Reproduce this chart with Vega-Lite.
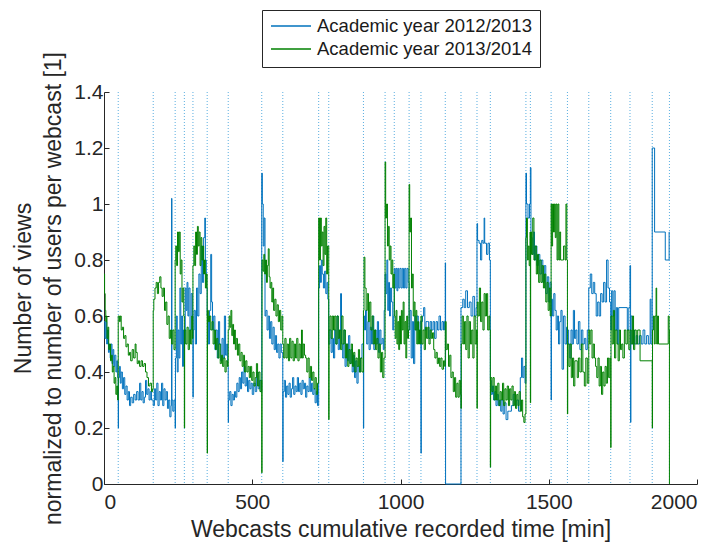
{
"$schema":"https://vega.github.io/schema/vega-lite/v6.json",
"width":593,"height":392,"autosize":"none",
"padding":{"left":104,"top":92,"right":24,"bottom":64},
"background":"white",
"config":{
 "view":{"stroke":null},
 "font":"Liberation Sans",
 "axis":{"grid":false,"domainColor":"#262626","tickColor":"#262626","labelColor":"#262626","titleColor":"#262626","labelFont":"Liberation Sans","titleFont":"Liberation Sans","labelFontSize":21,"titleFontSize":23,"titleFontWeight":"normal","tickSize":-5,"domainWidth":1},
 "legend":{"orient":"none","legendX":158,"legendY":-82,"strokeColor":"#262626","fillColor":"white","padding":8,"symbolType":"stroke","symbolSize":1600,"symbolStrokeWidth":1.5,"labelFontSize":18.5,"labelFont":"Liberation Sans","labelColor":"#1a1a1a","labelOffset":5,"labelLimit":0,"clipHeight":16,"rowPadding":4,"title":null}
},
"layer":[
 {"data":{"values":[{"x":48},{"x":166},{"x":240},{"x":271},{"x":300},{"x":348},{"x":419},{"x":532},{"x":603},{"x":724},{"x":758},{"x":875},{"x":948},{"x":979},{"x":1029},{"x":1069},{"x":1151},{"x":1204},{"x":1258},{"x":1303},{"x":1423},{"x":1438},{"x":1508},{"x":1563},{"x":1635},{"x":1709},{"x":1774},{"x":1849},{"x":1907}]},
  "mark":{"type":"rule","color":"#5aaee0","strokeDash":[1,2],"strokeWidth":1},
  "encoding":{"x":{"field":"x","type":"quantitative","scale":{"domain":[0,2000],"nice":false,"zero":false}}}},
 {"data":{"values":[
{"x":0,"y":0.58},{"x":3,"y":0.52},{"x":6,"y":0.58},{"x":9,"y":0.5},{"x":12,"y":0.55},{"x":15,"y":0.47},{"x":18,"y":0.5},{"x":21,"y":0.45},{"x":24,"y":0.5},{"x":27,"y":0.43},{"x":30,"y":0.48},{"x":33,"y":0.42},{"x":36,"y":0.46},{"x":40,"y":0.4},{"x":43,"y":0.44},{"x":46,"y":0.38},
{"x":48,"y":0.2},{"x":49,"y":0.38},{"x":52,"y":0.42},{"x":55,"y":0.36},{"x":58,"y":0.4},{"x":62,"y":0.34},{"x":66,"y":0.38},{"x":70,"y":0.32},{"x":74,"y":0.35},{"x":78,"y":0.3},{"x":82,"y":0.33},{"x":86,"y":0.28},{"x":90,"y":0.31},{"x":95,"y":0.29},{"x":100,"y":0.32},{"x":105,"y":0.3},{"x":110,"y":0.33},{"x":115,"y":0.3},{"x":120,"y":0.36},{"x":124,"y":0.3},{"x":128,"y":0.33},{"x":132,"y":0.29},{"x":136,"y":0.31},{"x":140,"y":0.37},{"x":144,"y":0.32},{"x":148,"y":0.34},{"x":152,"y":0.3},{"x":156,"y":0.33},{"x":160,"y":0.3},
{"x":166,"y":0.28},{"x":170,"y":0.34},{"x":174,"y":0.3},{"x":178,"y":0.36},{"x":182,"y":0.28},{"x":186,"y":0.33},{"x":190,"y":0.3},{"x":194,"y":0.36},{"x":198,"y":0.28},{"x":202,"y":0.34},{"x":206,"y":0.3},{"x":210,"y":0.33},{"x":214,"y":0.27},{"x":218,"y":0.3},{"x":222,"y":0.24},{"x":226,"y":0.28},{"x":228,"y":1.02},{"x":229,"y":0.3},{"x":232,"y":0.26},{"x":236,"y":0.3},
{"x":240,"y":0.2},{"x":241,"y":0.45},{"x":244,"y":0.6},{"x":247,"y":0.4},{"x":250,"y":0.55},{"x":253,"y":0.45},{"x":256,"y":0.7},{"x":259,"y":0.5},{"x":262,"y":0.6},{"x":265,"y":0.42},{"x":268,"y":0.55},
{"x":271,"y":0.5},{"x":274,"y":0.7},{"x":277,"y":0.62},{"x":280,"y":0.72},{"x":283,"y":0.6},{"x":286,"y":0.7},{"x":290,"y":0.55},{"x":294,"y":0.68},{"x":298,"y":0.6},
{"x":300,"y":0.31},{"x":301,"y":0.55},{"x":304,"y":0.62},{"x":308,"y":0.5},{"x":312,"y":0.7},{"x":316,"y":0.6},{"x":320,"y":0.75},{"x":324,"y":0.68},{"x":328,"y":0.85},{"x":332,"y":0.72},{"x":336,"y":0.88},{"x":340,"y":0.95},{"x":342,"y":0.8},{"x":345,"y":0.7},
{"x":348,"y":0.6},{"x":352,"y":0.5},{"x":356,"y":0.62},{"x":360,"y":0.82},{"x":363,"y":0.65},{"x":366,"y":0.55},{"x":370,"y":0.6},{"x":374,"y":0.48},{"x":378,"y":0.55},{"x":382,"y":0.45},{"x":386,"y":0.58},{"x":390,"y":0.5},{"x":394,"y":0.44},{"x":398,"y":0.52},{"x":402,"y":0.45},{"x":406,"y":0.6},{"x":410,"y":0.46},{"x":414,"y":0.5},{"x":417,"y":0.42},
{"x":419,"y":0.22},{"x":420,"y":0.3},{"x":424,"y":0.33},{"x":428,"y":0.28},{"x":432,"y":0.32},{"x":436,"y":0.3},{"x":440,"y":0.33},{"x":444,"y":0.31},{"x":448,"y":0.36},{"x":452,"y":0.33},{"x":456,"y":0.38},{"x":460,"y":0.34},{"x":464,"y":0.4},{"x":468,"y":0.36},{"x":472,"y":0.42},{"x":476,"y":0.35},{"x":480,"y":0.38},{"x":484,"y":0.33},{"x":488,"y":0.37},{"x":492,"y":0.34},{"x":496,"y":0.36},{"x":500,"y":0.32},{"x":505,"y":0.36},{"x":510,"y":0.33},{"x":515,"y":0.4},{"x":520,"y":0.34},{"x":525,"y":0.37},{"x":530,"y":0.33},
{"x":532,"y":1.11},{"x":534,"y":1.0},{"x":537,"y":0.85},{"x":540,"y":0.95},{"x":543,"y":0.6},{"x":546,"y":0.62},{"x":550,"y":0.55},{"x":554,"y":0.6},{"x":558,"y":0.52},{"x":562,"y":0.58},{"x":566,"y":0.5},{"x":570,"y":0.56},{"x":574,"y":0.48},{"x":578,"y":0.53},{"x":582,"y":0.47},{"x":586,"y":0.5},{"x":590,"y":0.45},{"x":594,"y":0.5},{"x":598,"y":0.47},
{"x":603,"y":0.08},{"x":604,"y":0.33},{"x":608,"y":0.37},{"x":612,"y":0.31},{"x":616,"y":0.35},{"x":620,"y":0.32},{"x":624,"y":0.36},{"x":628,"y":0.31},{"x":632,"y":0.34},{"x":636,"y":0.38},{"x":640,"y":0.32},{"x":644,"y":0.35},{"x":648,"y":0.33},{"x":652,"y":0.38},{"x":656,"y":0.33},{"x":660,"y":0.36},{"x":664,"y":0.32},{"x":668,"y":0.37},{"x":672,"y":0.34},{"x":676,"y":0.36},{"x":680,"y":0.31},{"x":684,"y":0.35},{"x":688,"y":0.33},{"x":692,"y":0.38},{"x":696,"y":0.33},{"x":700,"y":0.36},{"x":704,"y":0.32},{"x":708,"y":0.34},{"x":712,"y":0.29},{"x":716,"y":0.33},{"x":720,"y":0.28},
{"x":724,"y":0.7},{"x":727,"y":0.78},{"x":730,"y":0.72},{"x":733,"y":0.8},{"x":736,"y":0.75},{"x":740,"y":0.7},{"x":744,"y":0.76},{"x":748,"y":0.68},{"x":752,"y":0.72},{"x":755,"y":0.66},
{"x":758,"y":0.5},{"x":762,"y":0.55},{"x":766,"y":0.47},{"x":770,"y":0.52},{"x":774,"y":0.45},{"x":778,"y":0.55},{"x":782,"y":0.5},{"x":786,"y":0.6},{"x":790,"y":0.48},{"x":794,"y":0.55},{"x":798,"y":0.68},{"x":801,"y":0.5},{"x":805,"y":0.45},{"x":809,"y":0.55},{"x":813,"y":0.42},{"x":817,"y":0.5},{"x":821,"y":0.44},{"x":825,"y":0.53},{"x":829,"y":0.43},{"x":833,"y":0.48},{"x":837,"y":0.4},{"x":841,"y":0.46},{"x":845,"y":0.38},{"x":849,"y":0.44},{"x":853,"y":0.36},{"x":857,"y":0.42},{"x":861,"y":0.4},{"x":865,"y":0.45},{"x":870,"y":0.5},
{"x":875,"y":0.2},{"x":876,"y":0.6},{"x":879,"y":0.55},{"x":882,"y":0.62},{"x":886,"y":0.5},{"x":890,"y":0.58},{"x":894,"y":0.48},{"x":898,"y":0.56},{"x":902,"y":0.5},{"x":906,"y":0.6},{"x":910,"y":0.48},{"x":914,"y":0.55},{"x":918,"y":0.5},{"x":922,"y":0.58},{"x":926,"y":0.47},{"x":930,"y":0.55},{"x":934,"y":0.5},{"x":938,"y":0.52},{"x":942,"y":0.48},{"x":945,"y":0.62},
{"x":948,"y":0.75},{"x":951,"y":0.68},{"x":954,"y":0.8},{"x":957,"y":0.62},{"x":960,"y":0.72},{"x":963,"y":0.6},{"x":966,"y":0.7},{"x":970,"y":0.65},{"x":974,"y":0.55},{"x":977,"y":0.6},
{"x":979,"y":0.77},{"x":982,"y":0.7},{"x":985,"y":0.77},{"x":988,"y":0.69},{"x":991,"y":0.77},{"x":994,"y":0.7},{"x":998,"y":0.77},{"x":1002,"y":0.7},{"x":1006,"y":0.77},{"x":1010,"y":0.7},{"x":1014,"y":0.77},{"x":1018,"y":0.7},{"x":1022,"y":0.77},{"x":1026,"y":0.72},
{"x":1029,"y":0.55},{"x":1032,"y":0.62},{"x":1036,"y":0.45},{"x":1040,"y":0.58},{"x":1044,"y":0.43},{"x":1048,"y":0.6},{"x":1052,"y":0.55},{"x":1056,"y":0.6},{"x":1060,"y":0.55},{"x":1064,"y":0.52},{"x":1066,"y":0.58},
{"x":1069,"y":0.11},{"x":1070,"y":0.58},{"x":1074,"y":0.6},{"x":1078,"y":0.63},{"x":1082,"y":0.55},{"x":1086,"y":0.58},{"x":1090,"y":0.58},{"x":1095,"y":0.52},{"x":1100,"y":0.58},{"x":1105,"y":0.55},{"x":1110,"y":0.58},{"x":1115,"y":0.52},{"x":1120,"y":0.58},{"x":1125,"y":0.55},{"x":1130,"y":0.6},{"x":1135,"y":0.55},{"x":1140,"y":0.58},{"x":1145,"y":0.55},{"x":1148,"y":0.58},
{"x":1151,"y":0.79},{"x":1152,"y":0},
{"x":1204,"y":0.63},{"x":1210,"y":0.66},{"x":1215,"y":0.63},{"x":1220,"y":0.69},{"x":1226,"y":0.63},{"x":1232,"y":0.65},{"x":1238,"y":0.6},{"x":1244,"y":0.67},{"x":1250,"y":0.6},{"x":1255,"y":0.63},
{"x":1258,"y":0.93},{"x":1260,"y":0.87},{"x":1265,"y":0.86},{"x":1270,"y":0.8},{"x":1274,"y":0.87},{"x":1278,"y":0.86},{"x":1282,"y":0.95},{"x":1284,"y":0.86},{"x":1290,"y":0.82},{"x":1295,"y":0.86},{"x":1300,"y":0.8},
{"x":1303,"y":0.37},{"x":1306,"y":0.32},{"x":1310,"y":0.35},{"x":1314,"y":0.3},{"x":1318,"y":0.33},{"x":1322,"y":0.28},{"x":1326,"y":0.32},{"x":1330,"y":0.28},{"x":1334,"y":0.3},{"x":1338,"y":0.26},{"x":1342,"y":0.3},{"x":1346,"y":0.25},{"x":1350,"y":0.29},{"x":1356,"y":0.23},{"x":1362,"y":0.26},{"x":1368,"y":0.26},{"x":1374,"y":0.28},{"x":1380,"y":0.32},{"x":1386,"y":0.28},{"x":1392,"y":0.3},{"x":1398,"y":0.26},{"x":1404,"y":0.38},{"x":1408,"y":0.45},{"x":1412,"y":0.38},{"x":1416,"y":0.42},{"x":1420,"y":0.36},
{"x":1423,"y":1.11},{"x":1425,"y":1.0},{"x":1430,"y":0.95},{"x":1435,"y":1.0},{"x":1438,"y":1.13},{"x":1440,"y":0.88},{"x":1444,"y":0.82},{"x":1448,"y":0.9},{"x":1452,"y":0.8},{"x":1456,"y":0.85},{"x":1460,"y":0.78},{"x":1465,"y":0.82},{"x":1470,"y":0.75},{"x":1475,"y":0.8},{"x":1480,"y":0.72},{"x":1485,"y":0.78},{"x":1490,"y":0.68},{"x":1495,"y":0.74},{"x":1500,"y":0.65},{"x":1504,"y":0.72},
{"x":1508,"y":0.3},{"x":1509,"y":0.66},{"x":1513,"y":0.6},{"x":1517,"y":0.68},{"x":1521,"y":0.62},{"x":1525,"y":0.55},{"x":1529,"y":0.6},{"x":1533,"y":0.5},{"x":1537,"y":0.58},{"x":1541,"y":0.62},{"x":1545,"y":0.41},{"x":1550,"y":0.6},{"x":1555,"y":0.5},{"x":1560,"y":0.56},
{"x":1563,"y":0.55},{"x":1567,"y":0.5},{"x":1571,"y":0.45},{"x":1575,"y":0.55},{"x":1579,"y":0.5},{"x":1583,"y":0.62},{"x":1587,"y":0.52},{"x":1591,"y":0.55},{"x":1595,"y":0.5},{"x":1600,"y":0.58},{"x":1605,"y":0.48},{"x":1610,"y":0.55},{"x":1615,"y":0.5},{"x":1620,"y":0.52},{"x":1625,"y":0.48},{"x":1630,"y":0.55},
{"x":1635,"y":0.7},{"x":1640,"y":0.75},{"x":1645,"y":0.68},{"x":1650,"y":0.72},{"x":1655,"y":0.68},{"x":1660,"y":0.6},{"x":1665,"y":0.65},{"x":1670,"y":0.6},{"x":1675,"y":0.68},{"x":1680,"y":0.65},{"x":1685,"y":0.72},{"x":1690,"y":0.65},{"x":1695,"y":0.8},{"x":1700,"y":0.7},{"x":1705,"y":0.65},
{"x":1709,"y":0.55},{"x":1712,"y":0.69},{"x":1716,"y":0.6},{"x":1720,"y":0.69},{"x":1724,"y":0.55},{"x":1728,"y":0.63},{"x":1732,"y":0.5},{"x":1736,"y":0.63},{"x":1765,"y":0.55},{"x":1770,"y":0.63},
{"x":1774,"y":0.78},{"x":1776,"y":0.22},{"x":1777,"y":0.6},{"x":1781,"y":0.5},{"x":1785,"y":0.55},{"x":1789,"y":0.5},{"x":1795,"y":0.53},{"x":1800,"y":0.5},{"x":1806,"y":0.53},{"x":1812,"y":0.5},{"x":1818,"y":0.55},{"x":1824,"y":0.5},{"x":1830,"y":0.53},{"x":1836,"y":0.5},{"x":1842,"y":0.66},{"x":1845,"y":0.5},
{"x":1849,"y":1.2},{"x":1857,"y":0.9},{"x":1893,"y":0.8},{"x":1906,"y":0.9},{"x":1907,"y":0.9}
 ]},
  "mark":{"type":"line","interpolate":"step-after","strokeWidth":1},
  "encoding":{
   "x":{"field":"x","type":"quantitative","scale":{"domain":[0,2000],"nice":false,"zero":false},"axis":{"values":[0,500,1000,1500,2000],"format":"d","labelPadding":12,"titlePadding":6},"title":"Webcasts cumulative recorded time [min]"},
   "y":{"field":"y","type":"quantitative","scale":{"domain":[0,1.4],"nice":false},"axis":{"values":[0,0.2,0.4,0.6,0.8,1,1.2,1.4],"format":"~g","labelPadding":6,"titlePadding":8,"titleLineHeight":30},"title":["Number of views","normalized to number of users per webcast [1]"]},
   "color":{"datum":"Academic year 2012/2013","type":"nominal","scale":{"domain":["Academic year 2012/2013","Academic year 2013/2014"],"range":["#0072BD","#008000"]}}
  }},
 {"data":{"values":[
{"x":0,"y":0.75},{"x":2,"y":0.68},{"x":4,"y":0.62},{"x":6,"y":0.58},{"x":8,"y":0.6},{"x":10,"y":0.52},{"x":13,"y":0.56},{"x":16,"y":0.48},{"x":19,"y":0.5},{"x":22,"y":0.44},{"x":25,"y":0.46},{"x":28,"y":0.4},{"x":31,"y":0.42},{"x":34,"y":0.36},{"x":37,"y":0.38},{"x":40,"y":0.32},{"x":43,"y":0.35},{"x":46,"y":0.3},
{"x":48,"y":0.6},{"x":52,"y":0.58},{"x":55,"y":0.6},{"x":58,"y":0.55},{"x":62,"y":0.56},{"x":66,"y":0.52},{"x":70,"y":0.53},{"x":74,"y":0.49},{"x":78,"y":0.5},{"x":82,"y":0.46},{"x":86,"y":0.47},{"x":90,"y":0.44},{"x":95,"y":0.48},{"x":100,"y":0.45},{"x":105,"y":0.5},{"x":108,"y":0.47},{"x":112,"y":0.43},{"x":116,"y":0.44},{"x":120,"y":0.42},{"x":125,"y":0.44},{"x":130,"y":0.42},{"x":135,"y":0.43},{"x":140,"y":0.4},{"x":145,"y":0.38},{"x":150,"y":0.35},{"x":155,"y":0.36},{"x":160,"y":0.33},{"x":164,"y":0.34},
{"x":166,"y":0.62},{"x":168,"y":0.66},{"x":172,"y":0.7},{"x":176,"y":0.72},{"x":180,"y":0.68},{"x":184,"y":0.72},{"x":188,"y":0.74},{"x":192,"y":0.7},{"x":196,"y":0.67},{"x":200,"y":0.7},{"x":204,"y":0.62},{"x":208,"y":0.65},{"x":212,"y":0.57},{"x":216,"y":0.6},{"x":220,"y":0.52},{"x":224,"y":0.55},{"x":228,"y":0.5},{"x":232,"y":0.55},{"x":236,"y":0.48},
{"x":240,"y":0.8},{"x":242,"y":0.85},{"x":245,"y":0.78},{"x":248,"y":0.9},{"x":251,"y":0.83},{"x":254,"y":0.9},{"x":257,"y":0.75},{"x":260,"y":0.8},{"x":263,"y":0.65},{"x":266,"y":0.7},{"x":269,"y":0.6},
{"x":271,"y":0.2},{"x":272,"y":0.55},{"x":276,"y":0.5},{"x":280,"y":0.56},{"x":284,"y":0.48},{"x":288,"y":0.55},{"x":292,"y":0.5},{"x":296,"y":0.6},{"x":298,"y":0.52},
{"x":300,"y":0.78},{"x":303,"y":0.85},{"x":306,"y":0.78},{"x":309,"y":0.9},{"x":312,"y":0.82},{"x":315,"y":0.92},{"x":318,"y":0.85},{"x":321,"y":0.9},{"x":324,"y":0.78},{"x":327,"y":0.88},{"x":330,"y":0.8},{"x":333,"y":0.85},{"x":336,"y":0.75},{"x":339,"y":0.8},{"x":342,"y":0.7},{"x":345,"y":0.75},
{"x":348,"y":0.11},{"x":349,"y":0.62},{"x":352,"y":0.58},{"x":356,"y":0.6},{"x":360,"y":0.55},{"x":364,"y":0.58},{"x":368,"y":0.5},{"x":372,"y":0.55},{"x":376,"y":0.48},{"x":380,"y":0.52},{"x":384,"y":0.45},{"x":388,"y":0.5},{"x":392,"y":0.43},{"x":396,"y":0.46},{"x":400,"y":0.42},{"x":404,"y":0.45},{"x":408,"y":0.4},{"x":412,"y":0.44},{"x":416,"y":0.42},
{"x":419,"y":0.55},{"x":422,"y":0.6},{"x":425,"y":0.56},{"x":428,"y":0.62},{"x":431,"y":0.53},{"x":434,"y":0.57},{"x":437,"y":0.5},{"x":440,"y":0.55},{"x":443,"y":0.48},{"x":446,"y":0.52},{"x":450,"y":0.46},{"x":454,"y":0.5},{"x":458,"y":0.44},{"x":462,"y":0.47},{"x":466,"y":0.42},{"x":470,"y":0.46},{"x":474,"y":0.4},{"x":478,"y":0.44},{"x":482,"y":0.4},{"x":486,"y":0.42},{"x":490,"y":0.38},{"x":494,"y":0.42},{"x":498,"y":0.37},{"x":502,"y":0.4},{"x":506,"y":0.35},{"x":510,"y":0.38},{"x":514,"y":0.43},{"x":518,"y":0.35},{"x":522,"y":0.4},{"x":526,"y":0.33},{"x":530,"y":0.37},
{"x":532,"y":0.04},{"x":533,"y":0.8},{"x":536,"y":0.76},{"x":539,"y":0.82},{"x":542,"y":0.75},{"x":545,"y":0.8},{"x":548,"y":0.72},{"x":551,"y":0.78},{"x":554,"y":0.84},{"x":557,"y":0.74},{"x":560,"y":0.7},{"x":563,"y":0.72},{"x":566,"y":0.65},{"x":569,"y":0.7},{"x":572,"y":0.62},{"x":576,"y":0.66},{"x":580,"y":0.6},{"x":584,"y":0.64},{"x":588,"y":0.58},{"x":592,"y":0.62},{"x":596,"y":0.55},{"x":600,"y":0.6},
{"x":603,"y":0.5},{"x":606,"y":0.45},{"x":610,"y":0.52},{"x":614,"y":0.45},{"x":618,"y":0.5},{"x":622,"y":0.44},{"x":626,"y":0.52},{"x":630,"y":0.45},{"x":634,"y":0.51},{"x":638,"y":0.44},{"x":642,"y":0.5},{"x":646,"y":0.45},{"x":650,"y":0.52},{"x":654,"y":0.44},{"x":658,"y":0.5},{"x":662,"y":0.45},{"x":666,"y":0.55},{"x":669,"y":0.45},{"x":672,"y":0.5},{"x":676,"y":0.46},{"x":680,"y":0.45},{"x":684,"y":0.4},{"x":688,"y":0.45},{"x":692,"y":0.38},{"x":696,"y":0.42},{"x":700,"y":0.37},{"x":704,"y":0.4},{"x":708,"y":0.34},{"x":712,"y":0.38},{"x":716,"y":0.32},{"x":720,"y":0.36},
{"x":724,"y":0.95},{"x":727,"y":0.8},{"x":730,"y":0.95},{"x":733,"y":0.85},{"x":736,"y":0.9},{"x":739,"y":0.78},{"x":742,"y":0.92},{"x":745,"y":0.82},{"x":748,"y":0.95},{"x":751,"y":0.75},{"x":754,"y":0.85},
{"x":758,"y":0.23},{"x":759,"y":0.55},{"x":762,"y":0.6},{"x":766,"y":0.52},{"x":770,"y":0.6},{"x":774,"y":0.55},{"x":778,"y":0.6},{"x":782,"y":0.5},{"x":786,"y":0.6},{"x":790,"y":0.52},{"x":794,"y":0.55},{"x":798,"y":0.48},{"x":802,"y":0.6},{"x":806,"y":0.5},{"x":810,"y":0.55},{"x":814,"y":0.45},{"x":818,"y":0.5},{"x":822,"y":0.42},{"x":826,"y":0.48},{"x":830,"y":0.43},{"x":834,"y":0.5},{"x":838,"y":0.42},{"x":842,"y":0.47},{"x":846,"y":0.4},{"x":850,"y":0.45},{"x":854,"y":0.42},{"x":858,"y":0.48},{"x":862,"y":0.4},{"x":866,"y":0.45},{"x":870,"y":0.4},
{"x":875,"y":0.62},{"x":877,"y":0.81},{"x":880,"y":0.7},{"x":884,"y":0.62},{"x":888,"y":0.68},{"x":892,"y":0.58},{"x":896,"y":0.65},{"x":900,"y":0.55},{"x":904,"y":0.6},{"x":908,"y":0.5},{"x":912,"y":0.55},{"x":916,"y":0.48},{"x":920,"y":0.52},{"x":924,"y":0.45},{"x":928,"y":0.5},{"x":932,"y":0.4},{"x":936,"y":0.47},{"x":940,"y":0.38},{"x":944,"y":0.45},
{"x":948,"y":1.15},{"x":950,"y":0.95},{"x":953,"y":1.0},{"x":956,"y":0.85},{"x":959,"y":0.92},{"x":962,"y":0.8},{"x":965,"y":0.85},{"x":968,"y":0.75},{"x":971,"y":0.8},{"x":974,"y":0.7},{"x":977,"y":0.75},
{"x":979,"y":0.6},{"x":982,"y":0.52},{"x":985,"y":0.62},{"x":988,"y":0.5},{"x":991,"y":0.58},{"x":994,"y":0.48},{"x":997,"y":0.6},{"x":1000,"y":0.5},{"x":1003,"y":0.62},{"x":1006,"y":0.55},{"x":1009,"y":0.65},{"x":1012,"y":0.5},{"x":1015,"y":0.58},{"x":1018,"y":0.45},{"x":1021,"y":0.6},{"x":1024,"y":0.52},{"x":1027,"y":0.55},
{"x":1029,"y":1.07},{"x":1031,"y":0.9},{"x":1034,"y":0.95},{"x":1037,"y":0.7},{"x":1040,"y":0.75},{"x":1043,"y":0.6},{"x":1046,"y":0.65},{"x":1049,"y":0.55},{"x":1052,"y":0.62},{"x":1055,"y":0.5},{"x":1058,"y":0.58},{"x":1061,"y":0.5},{"x":1064,"y":0.55},{"x":1067,"y":0.5},
{"x":1069,"y":0.6},{"x":1072,"y":0.5},{"x":1076,"y":0.55},{"x":1080,"y":0.48},{"x":1084,"y":0.56},{"x":1088,"y":0.52},{"x":1092,"y":0.56},{"x":1096,"y":0.5},{"x":1100,"y":0.55},{"x":1104,"y":0.52},{"x":1108,"y":0.54},{"x":1112,"y":0.48},{"x":1116,"y":0.45},{"x":1120,"y":0.47},{"x":1124,"y":0.43},{"x":1128,"y":0.45},{"x":1132,"y":0.42},{"x":1136,"y":0.45},{"x":1140,"y":0.41},{"x":1145,"y":0.44},{"x":1149,"y":0.42},
{"x":1151,"y":0.58},{"x":1154,"y":0.48},{"x":1158,"y":0.5},{"x":1162,"y":0.42},{"x":1166,"y":0.46},{"x":1170,"y":0.38},{"x":1174,"y":0.4},{"x":1178,"y":0.33},{"x":1182,"y":0.38},{"x":1186,"y":0.31},{"x":1190,"y":0.36},{"x":1194,"y":0.31},{"x":1198,"y":0.37},{"x":1202,"y":0.32},
{"x":1204,"y":0.27},{"x":1205,"y":0.5},{"x":1208,"y":0.6},{"x":1212,"y":0.5},{"x":1216,"y":0.58},{"x":1220,"y":0.48},{"x":1224,"y":0.6},{"x":1228,"y":0.45},{"x":1232,"y":0.58},{"x":1236,"y":0.5},{"x":1240,"y":0.55},{"x":1244,"y":0.45},{"x":1248,"y":0.6},{"x":1252,"y":0.5},{"x":1256,"y":0.55},
{"x":1258,"y":0.27},{"x":1259,"y":0.65},{"x":1262,"y":0.6},{"x":1266,"y":0.7},{"x":1270,"y":0.58},{"x":1274,"y":0.65},{"x":1278,"y":0.55},{"x":1282,"y":0.68},{"x":1286,"y":0.6},{"x":1290,"y":0.68},{"x":1294,"y":0.55},{"x":1298,"y":0.6},{"x":1301,"y":0.55},
{"x":1303,"y":0.06},{"x":1304,"y":0.38},{"x":1308,"y":0.33},{"x":1312,"y":0.38},{"x":1316,"y":0.3},{"x":1320,"y":0.35},{"x":1324,"y":0.3},{"x":1328,"y":0.36},{"x":1332,"y":0.28},{"x":1336,"y":0.33},{"x":1340,"y":0.3},{"x":1344,"y":0.36},{"x":1348,"y":0.28},{"x":1352,"y":0.34},{"x":1356,"y":0.3},{"x":1360,"y":0.35},{"x":1364,"y":0.28},{"x":1368,"y":0.34},{"x":1372,"y":0.3},{"x":1376,"y":0.35},{"x":1380,"y":0.28},{"x":1384,"y":0.33},{"x":1388,"y":0.27},{"x":1392,"y":0.32},{"x":1396,"y":0.28},{"x":1400,"y":0.33},{"x":1404,"y":0.26},{"x":1408,"y":0.3},{"x":1412,"y":0.24},{"x":1416,"y":0.22},{"x":1420,"y":0.25},
{"x":1423,"y":0.88},{"x":1425,"y":0.95},{"x":1428,"y":0.8},{"x":1431,"y":0.85},{"x":1434,"y":0.78},{"x":1437,"y":0.9},{"x":1438,"y":0.29},{"x":1439,"y":0.9},{"x":1442,"y":0.82},{"x":1446,"y":0.95},{"x":1450,"y":0.8},{"x":1454,"y":0.85},{"x":1458,"y":0.75},{"x":1462,"y":0.82},{"x":1466,"y":0.72},{"x":1470,"y":0.8},{"x":1474,"y":0.72},{"x":1478,"y":0.78},{"x":1482,"y":0.7},{"x":1486,"y":0.75},{"x":1490,"y":0.65},{"x":1494,"y":0.72},{"x":1498,"y":0.62},{"x":1502,"y":0.7},{"x":1505,"y":0.6},
{"x":1508,"y":1.0},{"x":1510,"y":0.85},{"x":1513,"y":1.0},{"x":1516,"y":0.9},{"x":1519,"y":1.0},{"x":1522,"y":0.88},{"x":1525,"y":1.0},{"x":1528,"y":0.8},{"x":1531,"y":1.0},{"x":1534,"y":0.8},{"x":1537,"y":0.9},{"x":1540,"y":0.8},{"x":1545,"y":0.8},{"x":1550,"y":0.85},{"x":1555,"y":0.8},{"x":1558,"y":1.0},{"x":1561,"y":0.8},
{"x":1563,"y":0.25},{"x":1564,"y":0.5},{"x":1568,"y":0.42},{"x":1572,"y":0.5},{"x":1576,"y":0.38},{"x":1580,"y":0.45},{"x":1584,"y":0.35},{"x":1588,"y":0.44},{"x":1596,"y":0.38},{"x":1600,"y":0.45},{"x":1605,"y":0.4},{"x":1610,"y":0.5},{"x":1615,"y":0.4},{"x":1620,"y":0.35},{"x":1625,"y":0.45},{"x":1630,"y":0.36},
{"x":1635,"y":0.55},{"x":1638,"y":0.5},{"x":1642,"y":0.55},{"x":1646,"y":0.45},{"x":1650,"y":0.5},{"x":1654,"y":0.45},{"x":1658,"y":0.42},{"x":1662,"y":0.38},{"x":1666,"y":0.45},{"x":1670,"y":0.35},{"x":1674,"y":0.42},{"x":1678,"y":0.32},{"x":1682,"y":0.4},{"x":1686,"y":0.35},{"x":1690,"y":0.42},{"x":1694,"y":0.36},{"x":1698,"y":0.45},{"x":1702,"y":0.38},{"x":1706,"y":0.45},
{"x":1709,"y":0.13},{"x":1710,"y":0.6},{"x":1714,"y":0.5},{"x":1718,"y":0.62},{"x":1722,"y":0.45},{"x":1726,"y":0.55},{"x":1730,"y":0.5},{"x":1734,"y":0.44},{"x":1738,"y":0.55},{"x":1742,"y":0.48},{"x":1746,"y":0.5},{"x":1750,"y":0.45},{"x":1755,"y":0.55},{"x":1760,"y":0.5},{"x":1765,"y":0.55},{"x":1770,"y":0.48},
{"x":1774,"y":0.55},{"x":1778,"y":0.5},{"x":1782,"y":0.6},{"x":1786,"y":0.48},{"x":1790,"y":0.55},{"x":1795,"y":0.5},{"x":1800,"y":0.55},{"x":1808,"y":0.44},
{"x":1849,"y":0.2},{"x":1850,"y":0.55},{"x":1853,"y":0.6},{"x":1856,"y":0.5},{"x":1859,"y":0.6},{"x":1862,"y":0.7},{"x":1864,"y":0.5},{"x":1867,"y":0.6},{"x":1870,"y":0.5},{"x":1903,"y":0.6},{"x":1906,"y":0.55},{"x":1907,"y":0}
 ]},
  "mark":{"type":"line","interpolate":"step-after","strokeWidth":1},
  "encoding":{
   "x":{"field":"x","type":"quantitative","scale":{"domain":[0,2000],"nice":false,"zero":false}},
   "y":{"field":"y","type":"quantitative","scale":{"domain":[0,1.4],"nice":false}},
   "color":{"datum":"Academic year 2013/2014","type":"nominal","scale":{"domain":["Academic year 2012/2013","Academic year 2013/2014"],"range":["#0072BD","#008000"]}}
  }}
]
}
